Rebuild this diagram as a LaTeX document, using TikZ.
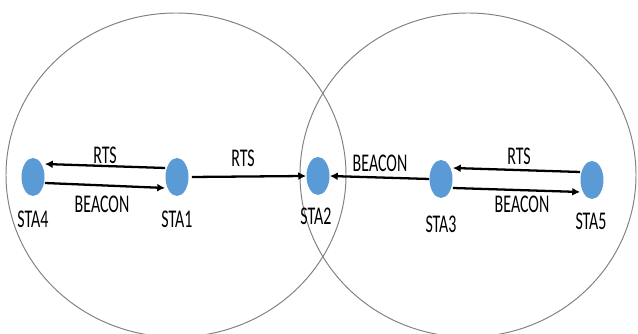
\documentclass[tikz,border=0pt]{standalone}
\usepackage{xcolor}
\usepackage{tikz}
\usetikzlibrary{shapes.geometric,arrows.meta}
\usepackage{fontspec}
\newfontfamily\stafont[FakeStretch=0.625]{Carlito}
\definecolor{stablue}{HTML}{5b9bd5}
\definecolor{rangegray}{HTML}{808080}

\begin{document}
\begin{tikzpicture}[x=1cm,y=1cm,
    sta/.style={ellipse,fill=stablue,inner sep=0pt,minimum width=0.46cm,minimum height=0.76cm},
    txt/.style={inner sep=0pt,font=\stafont\fontsize{14.5}{16}\selectfont},
    msg/.style={line width=1.3pt,-{Latex[length=4.5pt,width=4.5pt]}}]
  \useasboundingbox (0,0) rectangle (12.76,6.68);
  \draw[rangegray,line width=0.55pt] (3.52,3.18) ellipse[x radius=3.40cm,y radius=3.24cm];
  \draw[rangegray,line width=0.55pt] (9.36,3.18) ellipse[x radius=3.36cm,y radius=3.24cm];
  \node[sta] (s4) at (0.66,3.14) {};
  \node[sta] (s1) at (3.54,3.14) {};
  \node[sta] (s2) at (6.36,3.16) {};
  \node[sta] (s3) at (8.82,3.10) {};
  \node[sta] (s5) at (11.84,3.08) {};
  \node[txt] (l4) at (0.66,2.30) {STA4};
  \node[txt] (l1) at (3.54,2.30) {STA1};
  \node[txt] (l2) at (6.32,2.36) {STA2};
  \node[txt] (l3) at (8.82,2.20) {STA3};
  \node[txt] (l5) at (11.82,2.26) {STA5};
  \draw[msg] ([yshift=0.18cm]s1.west) -- ([yshift=0.26cm]s4.east);
  \draw[msg] ([yshift=-0.12cm]s4.east) -- ([yshift=-0.22cm]s1.west);
  \draw[msg] ([xshift=0.06cm]s1.east) -- (s2.west);
  \draw[msg] (s3.west) -- (s2.east);
  \draw[msg] ([yshift=0.16cm]s5.west) -- ([yshift=0.22cm]s3.east);
  \draw[msg] ([yshift=-0.18cm]s3.east) -- ([yshift=-0.24cm]s5.west);
  \node[txt] (rts41) at (2.10,3.58) {RTS};
  \node[txt] (bcn41) at (2.04,2.60) {BEACON};
  \node[txt] (rts12) at (4.86,3.52) {RTS};
  \node[txt] (bcn32) at (7.60,3.42) {BEACON};
  \node[txt] (rts53) at (10.38,3.56) {RTS};
  \node[txt] (bcn35) at (10.44,2.60) {BEACON};
\end{tikzpicture}
\end{document}
